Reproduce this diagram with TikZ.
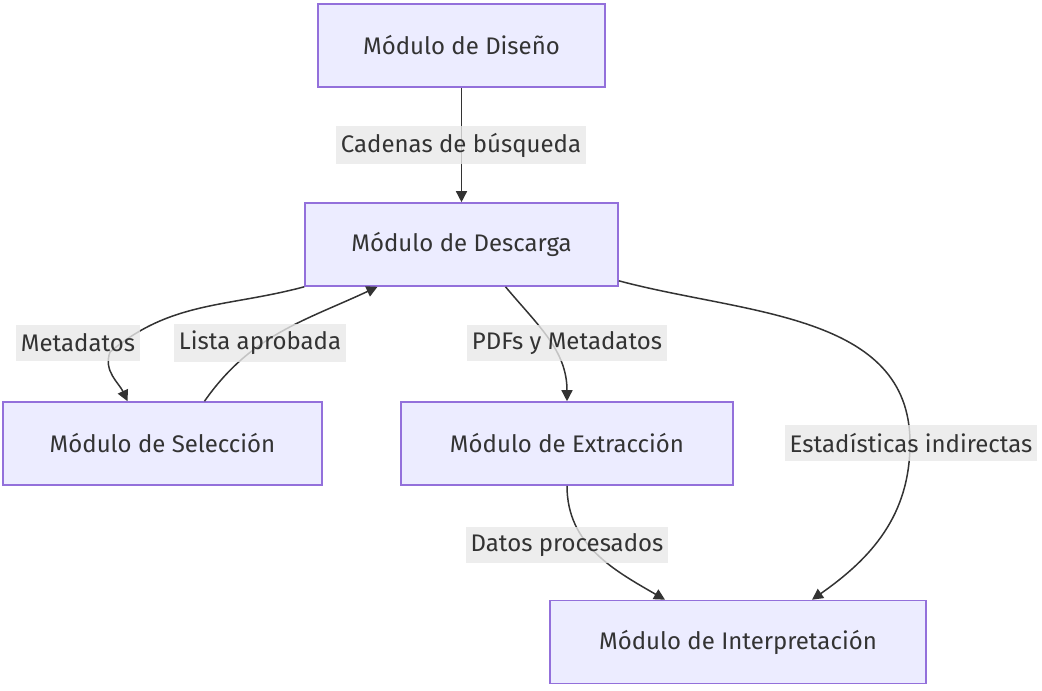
\documentclass[tikz,border=0pt]{standalone}
\usepackage{fontspec}
\setmainfont{Fira Sans}
\usetikzlibrary{arrows.meta,calc}
\definecolor{cajafondo}{HTML}{ECECFF}
\definecolor{cajaborde}{HTML}{9370DB}
\definecolor{etiqfondo}{HTML}{E8E8E8}
\definecolor{texto}{HTML}{333333}

\begin{document}
\begin{tikzpicture}[x=0.5pt,y=-0.5pt]
	\tikzset{modulo/.style={draw=cajaborde,fill=cajafondo,line width=0.8pt,minimum height=41.5pt,text=texto,font=\fontsize{12}{14}\selectfont}}
	\tikzset{etiqueta/.style={fill=etiqfondo,fill opacity=0.8,text opacity=1,text=texto,inner xsep=2.5pt,minimum height=18pt,font=\fontsize{12}{14}\selectfont}}
	\tikzset{flecha/.style={draw=texto,line width=0.75pt,-{Triangle[length=5.5pt,width=5.5pt]}}}
	\useasboundingbox (0,0) rectangle (1042,690);
	% modulos
	\node[modulo,minimum width=143.5pt] (dis) at (461.5,45.5) {Módulo de Diseño};
	\node[modulo,minimum width=156.5pt] (desc) at (461.5,244.5) {Módulo de Descarga};
	\node[modulo,minimum width=159.5pt] (sel) at (162.5,443.5) {Módulo de Selección};
	\node[modulo,minimum width=166pt] (ext) at (567,443.5) {Módulo de Extracción};
	\node[modulo,minimum width=188pt] (int) at (738,642) {Módulo de Interpretación};
	% conexiones
	\coordinate (m1) at (110,352);
	\draw[flecha] (dis) -- (desc);
	\draw[flecha] (desc.south west) to[out=195,in=40] (m1) to[out=250,in=115] ($(sel.north)+(-35,0)$);
	\draw[flecha] ($(sel.north)+(42,0)$) to[out=55,in=205] ($(desc.south)+(-84,0)$);
	\draw[flecha] ($(desc.south)+(44,0)$) to[out=-50,in=90] (ext.north);
	\draw[flecha] ($(desc.south east)+(0,-6)$) to[out=-15,in=90] (910,443) to[out=-90,in=35] ($(int.north)+(74,0)$);
	\draw[flecha] (ext.south) to[out=-90,in=150] ($(int.north)+(-73,0)$);
	% etiquetas
	\node[etiqueta] (cad) at (461,145) {Cadenas de búsqueda};
	\node[etiqueta] (meta) at (78,343) {Metadatos};
	\node[etiqueta] (lista) at (260,343) {Lista aprobada};
	\node[etiqueta] (pdf) at (567,343) {PDFs y Metadatos};
	\node[etiqueta] (est) at (911,443) {Estadísticas indirectas};
	\node[etiqueta] (datos) at (567,545) {Datos procesados};
\end{tikzpicture}
\end{document}
